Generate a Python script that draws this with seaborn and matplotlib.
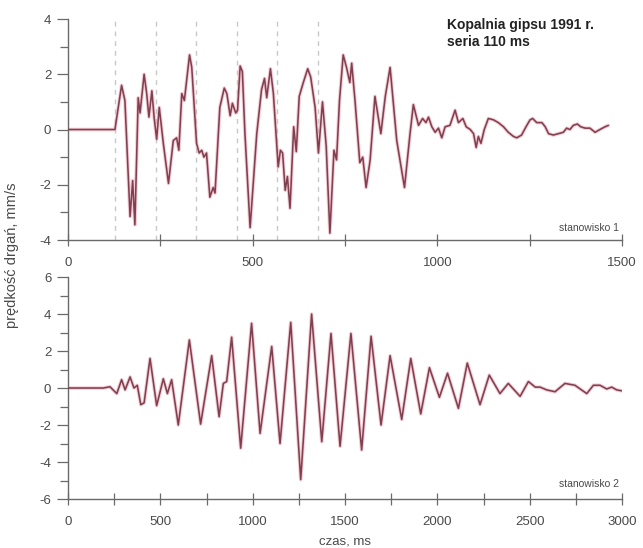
import numpy as np
import pandas as pd
import matplotlib
matplotlib.use("Agg")
import matplotlib.pyplot as plt
from matplotlib.ticker import MultipleLocator
import seaborn as sns

# stanowisko 1 – czas [ms] i prędkość drgań [mm/s]
t1 = [0, 127, 145, 154, 168, 175, 181, 190, 195, 206, 213, 219, 227, 233, 240, 247,
      258, 272, 285, 294, 300, 308, 315, 329, 335, 348, 355, 362, 368, 375, 384, 393,
      398, 411, 423, 430, 439, 445, 454, 459, 466, 472, 479, 493, 511, 524, 532, 538,
      548, 556, 569, 575, 581, 588, 594, 601, 611, 618, 626, 637, 649, 657, 669, 678,
      689, 699, 709, 720, 727, 735, 745, 754, 763, 768, 777, 790, 798, 807, 818, 831,
      840, 847, 859, 872, 890, 911, 926, 935, 949, 960, 969, 976, 985, 994, 1003, 1012,
      1021, 1034, 1048, 1057, 1069, 1078, 1089, 1098, 1105, 1111, 1118, 1127, 1138,
      1152, 1165, 1179, 1192, 1206, 1215, 1228, 1240, 1251, 1258, 1269, 1283, 1292,
      1301, 1314, 1328, 1341, 1350, 1359, 1368, 1379, 1388, 1400, 1413, 1427, 1440,
      1454, 1463]
v1 = [0, 0, 1.6, 1.05, -3.15, -1.85, -3.45, 1.15, 0.6, 2.0, 1.3, 0.45, 1.4, 0.45, -0.35, 0.8,
      -0.5, -1.95, -0.4, -0.3, -0.75, 1.3, 1.05, 2.7, 2.25, -0.5, -0.85, -0.75, -1.0, -0.85, -2.45, -2.1,
      -2.3, 0.8, 1.5, 1.3, 0.5, 0.95, 0.6, 0.7, 2.3, 2.1, -0.15, -3.55, -0.15, 1.45, 1.85, 1.15,
      2.2, 1.3, -1.35, -0.75, -0.85, -2.2, -1.7, -2.85, 0.1, -0.8, 1.2, 1.7, 2.2, 1.9, 0.8, -0.85,
      1.0, -0.6, -3.75, -0.75, -1.1, 1.05, 2.7, 2.25, 1.7, 2.4, 1.05, -1.2, -1.0, -2.1, -1.1, 1.2,
      0.45, -0.15, 1.2, 2.25, -0.4, -2.1, -0.15, 0.9, 0.15, 0.4, 0.25, 0.45, 0.1, -0.1, 0.05, -0.3,
      0.1, 0.15, 0.7, 0.25, 0.4, 0.1, 0.0, -0.15, -0.65, -0.25, -0.5, 0.0, 0.4,
      0.35, 0.25, 0.1, -0.1, -0.25, -0.3, -0.2, 0.1, 0.35, 0.4, 0.25, 0.25, 0.1,
      -0.15, -0.2, -0.15, -0.1, 0.05, 0.0, 0.15, 0.2, 0.1, 0.05, 0.05, -0.1, 0.0,
      0.1, 0.15]

# stanowisko 2
t2 = [0, 191, 227, 264, 290, 309, 336, 357, 375, 394, 412, 444, 480, 516, 538, 561,
      597, 657, 718, 778, 818, 841, 859, 886, 935, 994, 1040, 1103, 1148, 1206, 1260,
      1319, 1374, 1424, 1473, 1532, 1590, 1641, 1695, 1744, 1807, 1856, 1910, 1957,
      2011, 2055, 2114, 2162, 2231, 2281, 2339, 2384, 2448, 2493, 2530, 2556, 2592,
      2637, 2691, 2745, 2809, 2845, 2881, 2917, 2944, 2971, 2998]
v2 = [0, 0, 0.07, -0.3, 0.45, -0.1, 0.6, 0.0, 0.15, -0.9, -0.8, 1.6, -0.95, 0.5, -0.3, 0.45,
      -2.0, 2.6, -1.95, 1.75, -1.55, 0.25, 0.35, 2.75, -3.25, 3.5, -2.45, 2.25, -3.0, 3.55, -4.95,
      4.0, -2.9, 2.95, -3.15, 2.95, -3.35, 2.8, -2.0, 1.75, -1.7, 1.6, -1.4, 1.1,
      -0.5, 0.8, -1.1, 1.35, -0.9, 0.7, -0.3, 0.25, -0.45, 0.35, 0.05, 0.05, -0.1,
      -0.2, 0.25, 0.15, -0.3, 0.15, 0.15, -0.05, 0.05, -0.1, -0.15]

# momenty odpaleń kolejnych grup (opóźnienie 110 ms)
delays = [127, 237, 347, 457, 567, 677]

title_text = "Kopalnia gipsu 1991 r.\nseria 110 ms"
station_labels = ["stanowisko 1", "stanowisko 2"]

sns.set_style("ticks")
plt.rcParams["font.family"] = ["Liberation Sans", "DejaVu Sans"]
plt.rcParams["axes.unicode_minus"] = False

fig = plt.figure(figsize=(6.43, 5.48), dpi=100)
ax1 = fig.add_axes([0.1058, 0.562, 0.8616, 0.4033])
ax2 = fig.add_axes([0.1058, 0.0894, 0.8616, 0.405])

line_core = "#80404f"
line_halo = "#eba3b4"
axis_col = "#6a6a6a"
text_col = "#4a4a4a"

df1 = pd.DataFrame({"t": t1, "v": v1})
df2 = pd.DataFrame({"t": t2, "v": v2})

for d in delays:
    ax1.axvline(d, color="#c8c8c8", lw=1.0, ls=(0, (3.5, 3.5)), zorder=1)

for ax, df in ((ax1, df1), (ax2, df2)):
    sns.lineplot(data=df, x="t", y="v", ax=ax, color=line_halo, lw=2.6,
                 alpha=0.55, sort=False, zorder=2)
    sns.lineplot(data=df, x="t", y="v", ax=ax, color=line_core, lw=1.15,
                 sort=False, zorder=3)
    ax.set_xlabel("")
    ax.set_ylabel("")
    sns.despine(ax=ax)
    for s in ("left", "bottom"):
        ax.spines[s].set_color(axis_col)
        ax.spines[s].set_linewidth(1.0)
    ax.tick_params(axis="x", which="both", direction="inout", length=8,
                   width=0.9, colors=axis_col, labelcolor=text_col,
                   labelsize=9.5, pad=8)
    ax.tick_params(axis="y", which="major", direction="out", length=8,
                   width=0.9, colors=axis_col, labelcolor=text_col,
                   labelsize=9.5, pad=4)
    ax.tick_params(axis="y", which="minor", direction="out", length=6,
                   width=0.9, colors=axis_col)
    ax.yaxis.set_minor_locator(MultipleLocator(1))

ax1.set_xlim(0, 1500)
ax1.set_ylim(-4, 4)
ax1.xaxis.set_major_locator(MultipleLocator(500))
ax1.xaxis.set_minor_locator(MultipleLocator(250))
ax1.yaxis.set_major_locator(MultipleLocator(2))

ax2.set_xlim(0, 3000)
ax2.set_ylim(-6, 6)
ax2.xaxis.set_major_locator(MultipleLocator(500))
ax2.xaxis.set_minor_locator(MultipleLocator(250))
ax2.yaxis.set_major_locator(MultipleLocator(2))

ax1.text(1026, 4.05, title_text, fontsize=10, fontweight="bold",
         color="#222222", va="top", ha="left", linespacing=1.3)
ax1.text(1492, -3.55, station_labels[0], fontsize=7.5, color=text_col,
         ha="right", va="center")
ax2.text(2985, -5.2, station_labels[1], fontsize=7.5, color=text_col,
         ha="right", va="center")

fig.text(0.018, 0.535, "prędkość drgań, mm/s", rotation=90, fontsize=10.5,
         color=text_col, ha="center", va="center")
fig.text(0.537, 0.001, "czas, ms", fontsize=9.5, color=text_col,
         ha="center", va="bottom")

fig.savefig("out.png", dpi=100, facecolor="white")
